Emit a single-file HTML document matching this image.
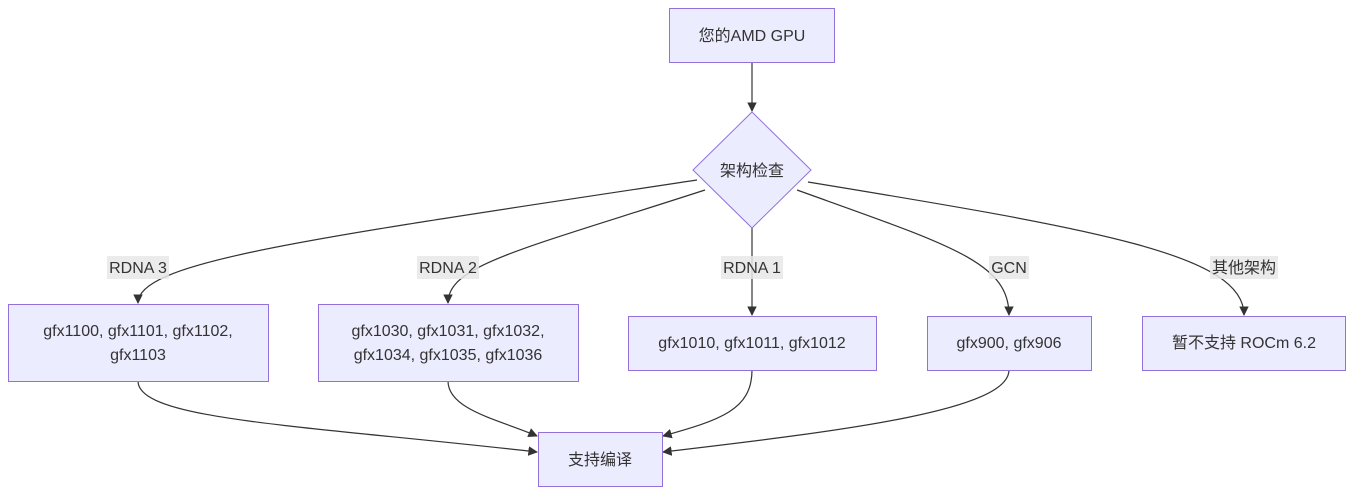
<!DOCTYPE html>
<html><head><meta charset="utf-8"><style>
body{margin:0;background:#fff;}
text{font-family:"Liberation Sans","Noto Sans CJK SC",sans-serif;font-size:16px;fill:#333;}
</style></head><body>
<svg width="1354" height="494" viewBox="0 0 1354 494" xmlns="http://www.w3.org/2000/svg">
<defs><marker id="a" viewBox="0 0 10 10" refX="9" refY="5" markerWidth="8" markerHeight="8" orient="auto"><path d="M0,0L10,5L0,10z" fill="#333"/></marker></defs>
<g fill="none" stroke="#333" stroke-width="1.2" marker-end="url(#a)">
<path d="M752,62L752,111"/>
<path d="M697,180C300,240 138,262 138,303"/>
<path d="M705,190C520,250 448,265 448,303"/>
<path d="M752,228L752,315"/>
<path d="M797,190C950,245 1009,262 1009,315"/>
<path d="M808,182C1100,230 1244,255 1244,315"/>
<path d="M138,381C138,420 300,425 537,452"/>
<path d="M448,381C448,410 500,420 537,436"/>
<path d="M752,370C752,410 720,420 663,436"/>
<path d="M1009,370C1009,410 850,430 663,452"/>
</g>
<g fill="#ECECFF" stroke="#9370DB" stroke-width="1">
<rect x="669.5" y="8.5" width="165" height="54"/>
<polygon points="752,112 811,170 752,228 693,170"/>
<rect x="8.5" y="304.5" width="260" height="77"/>
<rect x="318.5" y="304.5" width="260" height="77"/>
<rect x="628.5" y="316.5" width="248" height="54"/>
<rect x="927.5" y="316.5" width="164" height="54"/>
<rect x="1142.5" y="316.5" width="203" height="54"/>
<rect x="538.5" y="432.5" width="124" height="54"/>
</g>
<g fill="rgba(232,232,232,0.85)">
<rect x="107" y="256" width="62" height="23"/>
<rect x="417" y="256" width="62" height="23"/>
<rect x="721" y="256" width="62" height="23"/>
<rect x="989" y="256" width="40" height="23"/>
<rect x="1210" y="256" width="68" height="23"/>
</g>
<g text-anchor="middle">
<text x="752" y="41">您的AMD GPU</text>
<text x="752" y="176">架构检查</text>
<text x="138" y="273">RDNA 3</text>
<text x="448" y="273">RDNA 2</text>
<text x="752" y="273">RDNA 1</text>
<text x="1009" y="273">GCN</text>
<text x="1244" y="273">其他架构</text>
<text x="138" y="336">gfx1100, gfx1101, gfx1102,</text>
<text x="138" y="360">gfx1103</text>
<text x="448" y="336">gfx1030, gfx1031, gfx1032,</text>
<text x="448" y="360">gfx1034, gfx1035, gfx1036</text>
<text x="752" y="348">gfx1010, gfx1011, gfx1012</text>
<text x="1009" y="348">gfx900, gfx906</text>
<text x="1244" y="348">暂不支持 ROCm 6.2</text>
<text x="600" y="465">支持编译</text>
</g>
</svg>
</body></html>
